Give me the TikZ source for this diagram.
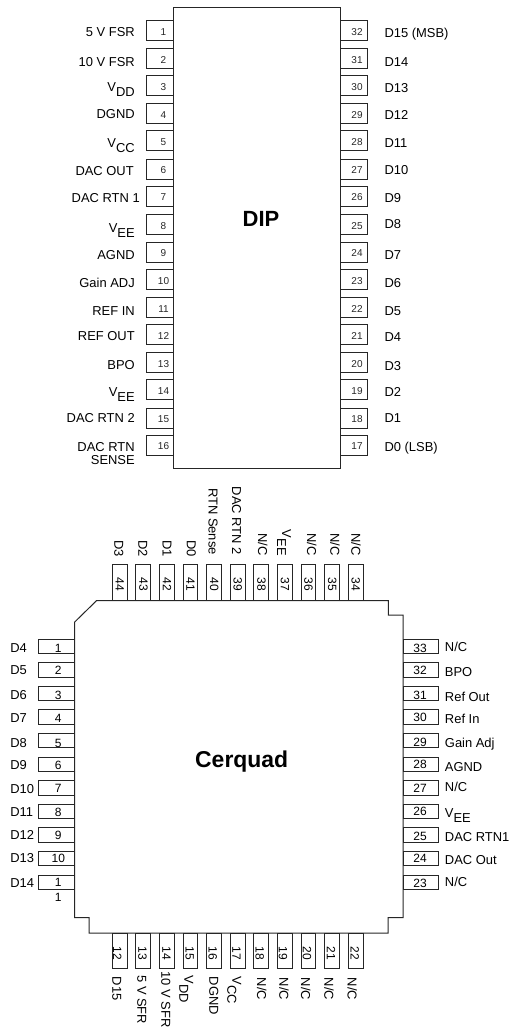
\documentclass[tikz,border=0pt]{standalone}
\usepackage{fontspec}
\setmainfont{Liberation Sans}
\newcommand{\vsub}[1]{V\raisebox{-3.75pt}{#1}}
\tikzset{
  lab/.style={inner sep=0pt,text height=6.95pt,text depth=0pt,font=\fontsize{9.7}{10}\selectfont},
  lineart/.style={draw=black!85,line width=0.75pt,line join=miter},
  dipnum/.style={inner sep=0pt,text height=5.4pt,text depth=0pt,font=\fontsize{7.5}{8}\selectfont,text=black!85},
  cqnum/.style={inner sep=0pt,text height=6.5pt,text depth=0pt,font=\fontsize{9}{10}\selectfont},
  title/.style={inner sep=0pt,text depth=0pt}
}
\begin{document}
\begin{tikzpicture}[x=0.75pt,y=-0.75pt]
\useasboundingbox (0,0) rectangle (509,1028);
% DIP body
\draw[lineart] (173,7) rectangle (340,468);
\node[title,text height=11.8pt,font=\fontsize{16.5}{18}\bfseries\selectfont] (diplabel) at (261,218.7) {DIP};
% DIP pins: left number / right number / top / left label / label y / right x / right label / right y
\foreach \n/\m/\t/\ll/\ly/\lx/\rl/\ry in {
 1/32/20.5/{5 V FSR}/32/135/{D15 (MSB)}/32.7,
 2/31/48.5/{10 V FSR}/61.6/135/{D14}/61.6,
 3/30/75.5/{\vsub{DD}}/87/135/{D13}/87.5,
 4/29/103.5/{DGND}/114/135/{D12}/115,
 5/28/130.5/{\vsub{CC}}/142.6/135/{D11}/143,
 6/27/159/{DAC OUT}/171/134/{D10}/169.5,
 7/26/186/{DAC RTN 1}/198/140/{D9}/198,
 8/25/214.5/{\vsub{EE}}/227.7/135/{D8}/224,
 9/24/242/{AGND}/255/135/{D7}/255,
 10/23/269.5/{Gain ADJ}/283/135/{D6}/282.5,
 11/22/297.5/{REF IN}/310.6/135/{D5}/310.5,
 12/21/324.5/{REF OUT}/336/135/{D4}/337,
 13/20/352.5/{BPO}/365/135/{D3}/365.5,
 14/19/379.5/{\vsub{EE}}/391.7/135/{D2}/392,
 15/18/408/{DAC RTN 2}/418/135/{D1}/418,
 16/17/435/{}/446.7/135/{D0 (LSB)}/447}{
  \draw[lineart] (146.5,\t) rectangle (173,\t+20);
  \draw[lineart] (340,\t) rectangle (367,\t+20);
  \node[dipnum] (dl\n) at (163.5,\t+11) {\n};
  \node[dipnum] (dr\m) at (357,\t+11) {\m};
  \node[lab,anchor=east] (dll\n) at (\lx,\ly) {\ll};
  \node[lab,anchor=west] (dlr\m) at (384.3,\ry) {\rl};
}
\node[inner sep=0pt,anchor=east,align=right,font=\fontsize{9.7}{10}\selectfont] (dllsense) at (135,453.5) {DAC RTN\\SENSE};
% Cerquad body
\draw[lineart] (96.7,600.5) -- (388.3,600.5) -- (388.3,615) -- (403,615) -- (403,917.7) -- (388,917.7) -- (388,933) -- (89,933) -- (89,917.7) -- (74.7,917.7) -- (74.7,622) -- cycle;
\node[title,text height=12.3pt,font=\fontsize{17.2}{18}\bfseries\selectfont] (cqlabel) at (241.7,759.5) {Cerquad};
% Left pins
\foreach \k/\n/\ny/\lb/\ly in {
 0/1/647.7/D4/647.7, 1/2/670/D5/670, 2/3/695/D6/695, 3/4/717.7/D7/717.7, 4/5/742.7/D8/742.7,
 5/6/764.7/D9/764.7, 6/7/788.3/D10/789, 7/8/811.7/D11/811.7, 8/9/835/D12/835, 9/10/858.3/D13/858.3}{
  \draw[lineart] (38.7,639+23.6*\k) rectangle (74.7,653.5+23.6*\k);
  \node[cqnum] (cl\n) at (58.3,\ny) {\n};
  \node[lab,anchor=west] (cll\n) at (10,\ly) {\lb};
}
\draw[lineart] (38.7,875) rectangle (74.7,889.5);
\node[cqnum] (cl11a) at (58.3,881.7) {1};
\node[cqnum] (cl11b) at (58.3,896.7) {1};
\node[lab,anchor=west] (cll11) at (10,883) {D14};
% Right pins
\foreach \k/\n/\ny/\lb/\ly in {
 0/33/647.7/{N/C}/646.7, 1/32/669.7/{BPO}/672, 2/31/695/{Ref Out}/696.7, 3/30/717/{Ref In}/719,
 4/29/742/{Gain Adj}/743, 5/28/764/{AGND}/766.7, 6/27/788/{N/C}/787.3, 7/26/810.7/{\vsub{EE}}/812.7,
 8/25/835.7/{DAC RTN1}/837.3, 9/24/857.7/{DAC Out}/860, 10/23/882.7/{N/C}/882}{
  \draw[lineart] (403,639+23.6*\k) rectangle (438.7,653.5+23.6*\k);
  \node[cqnum] (cr\n) at (420,\ny) {\n};
  \node[lab,anchor=west] (crl\n) at (444.7,\ly) {\lb};
}
% Top pins
\foreach \k/\n/\lb/\lx/\ye in {
 0/44/D3/119/557, 1/43/D2/143/557, 2/42/D1/167.3/557, 3/41/D0/191.5/557, 4/40/{RTN Sense}/213.3/555,
 5/39/{DAC RTN 2}/236.7/555, 6/38/{N/C}/262.7/556, 7/37/{\vsub{EE}}/286.7/556, 8/36/{N/C}/311.7/556,
 9/35/{N/C}/335/556, 10/34/{N/C}/356/556}{
  \draw[lineart] (112.3+23.6*\k,564.3) rectangle (127+23.6*\k,600.5);
  \node[cqnum,rotate=-90] (ct\n) at (120+23.6*\k,584.3) {\n};
  \node[lab,rotate=-90,anchor=east] (ctl\n) at (\lx,\ye) {\lb};
}
% Bottom pins
\foreach \k/\n/\nx/\lb/\lx/\ys in {
 0/12/117.5/D15/117/976.7, 1/13/142.7/{5 V SFR}/142/975, 2/14/166.7/{10 V SFR}/166/971.5,
 3/15/190/{\vsub{DD}}/189/975.7, 4/16/213/{DGND}/214/976.7, 5/17/236.7/{\vsub{CC}}/237/976.7,
 6/18/260/{N/C}/261.7/977.7, 7/19/283.3/{N/C}/284/977.7, 8/20/307.3/{N/C}/305.7/977.7,
 9/21/331.3/{N/C}/329/977.7, 10/22/355/{N/C}/352.3/977.7}{
  \draw[lineart] (112.3+23.6*\k,933) rectangle (127+23.6*\k,968.3);
  \node[cqnum,rotate=-90] (cb\n) at (\nx,953.3) {\n};
  \node[lab,rotate=-90,anchor=west] (cbl\n) at (\lx,\ys) {\lb};
}
\end{tikzpicture}
\end{document}
